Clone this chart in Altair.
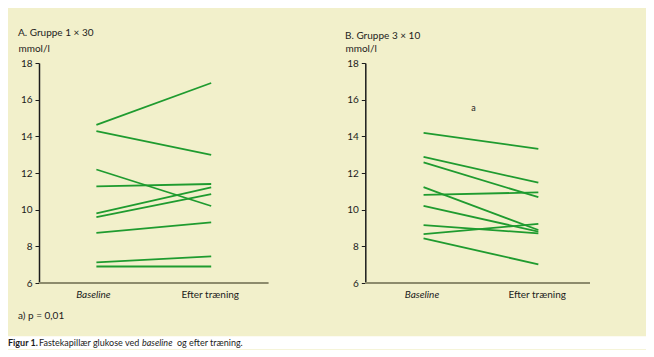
import altair as alt
import pandas as pd

# ---------------- data ----------------
panel_titles = ["A. Gruppe 1 × 30", "B. Gruppe 3 × 10"]
unit_label = "mmol/l"
x_labels = ["Baseline", "Efter træning"]
y_ticks = [6, 8, 10, 12, 14, 16, 18]

a_baseline = [14.62, 14.29, 12.19, 11.27, 9.80, 9.59, 8.73, 7.12, 6.90]
a_after = [16.91, 12.99, 10.20, 11.40, 11.21, 10.85, 9.31, 7.45, 6.90]

b_baseline = [14.19, 12.88, 12.58, 11.23, 10.81, 10.21, 9.16, 8.67, 8.43]
b_after = [13.32, 11.47, 10.68, 8.89, 10.94, 8.80, 8.71, 9.22, 7.02]

annotation_text = "a"
annotation_value = 15.55
footnote = "a) p = 0,01"
caption_parts = ["Figur 1.", "Fastekapillær glukose ved", "baseline", "og efter træning."]

# ---------------- layout / style ----------------
BG = "#f2f0cb"
GREEN = "#1f9b2f"
INK = "#1c1c1c"
AXIS_GREY = "#8d8b6c"
FONT = "Lato"
W, H = 551, 220
X_DOMAIN = [0, 2.4]
Y_DOMAIN = [6, 18]
OFFSETS = {"A": 0.0, "B": 1.42}
PANEL_END = {"A": 1.0, "B": 2.4}
POINT_POS = {"A": [0.25, 0.75], "B": [0.255, 0.755]}
LABEL_POS = {"A": [0.237, 0.746], "B": [0.248, 0.75]}
ANNOT_X = 1.892
B_AXIS_PX = 326.3

xs = alt.Scale(domain=X_DOMAIN, nice=False, zero=False)
ys = alt.Scale(domain=Y_DOMAIN, nice=False, zero=False)

rows = []
for panel, base, after in (("A", a_baseline, a_after), ("B", b_baseline, b_after)):
    for i, (b, a) in enumerate(zip(base, after)):
        rows.append(dict(subj=f"{panel}{i}", panel=panel, x=OFFSETS[panel] + POINT_POS[panel][0], value=b))
        rows.append(dict(subj=f"{panel}{i}", panel=panel, x=OFFSETS[panel] + POINT_POS[panel][1], value=a))
lines_df = pd.DataFrame(rows)

axes_df = pd.DataFrame({
    "start": [OFFSETS["A"], OFFSETS["B"]],
    "end": [PANEL_END["A"], PANEL_END["B"]],
    "base": [Y_DOMAIN[0], Y_DOMAIN[0]],
})

lab_rows = []
for panel in ("A", "B"):
    for j, lab in enumerate(x_labels):
        lab_rows.append(dict(label=lab, x=OFFSETS[panel] + LABEL_POS[panel][j], base=Y_DOMAIN[0], idx=j))
labels_df = pd.DataFrame(lab_rows)

one = pd.DataFrame({"k": [0]})


def y_axis(tx, ty, offset=0):
    return alt.Axis(
        values=y_ticks, orient="left", offset=offset, grid=False,
        domainColor=INK, domainWidth=1.5, tickColor=INK, tickSize=4, tickWidth=1,
        labelFont=FONT, labelFontSize=10, labelColor=INK, labelPadding=3,
        title=unit_label, titleFont=FONT, titleFontSize=10, titleFontWeight="normal",
        titleColor=INK, titleAngle=0, titleAlign="left", titleBaseline="middle",
        titleX=tx, titleY=ty,
    )


top_pad = alt.Chart(one).mark_rect(color=BG).encode(
    x=alt.value(-31), x2=alt.value(607), y=alt.value(-54.7), y2=alt.value(-50)
)
footer_bg = alt.Chart(one).mark_rect(color="white").encode(
    x=alt.value(-31), x2=alt.value(607), y=alt.value(273.3), y2=alt.value(286.3)
)

x_enc = alt.X("x:Q", scale=xs, axis=None)

lines_a = alt.Chart(lines_df[lines_df.panel == "A"]).mark_line(color=GREEN, strokeWidth=1.8).encode(
    x=x_enc,
    y=alt.Y("value:Q", scale=ys, axis=y_axis(-21, -14.7)),
    detail="subj:N",
)
lines_b = alt.Chart(lines_df[lines_df.panel == "B"]).mark_line(color=GREEN, strokeWidth=1.8).encode(
    x=x_enc,
    y=alt.Y("value:Q", scale=ys, axis=y_axis(-20.3, -14.7, offset=-B_AXIS_PX)),
    detail="subj:N",
)

x_axes = alt.Chart(axes_df).mark_rule(color=AXIS_GREY, strokeWidth=2).encode(
    x=alt.X("start:Q", scale=xs, axis=None), x2="end:Q",
    y=alt.Y("base:Q", scale=ys, axis=None),
)

lab_it = alt.Chart(labels_df[labels_df.idx == 0]).mark_text(
    font=FONT, fontSize=10, fontStyle="italic", color=INK, baseline="middle", dy=12
).encode(x=x_enc, y=alt.Y("base:Q", scale=ys, axis=None), text="label:N")
lab_n = alt.Chart(labels_df[labels_df.idx == 1]).mark_text(
    font=FONT, fontSize=10, color=INK, baseline="middle", dy=12
).encode(x=x_enc, y=alt.Y("base:Q", scale=ys, axis=None), text="label:N")

title_a = alt.Chart(pd.DataFrame({"t": [panel_titles[0]]})).mark_text(
    font=FONT, fontSize=10, color=INK, align="left", baseline="middle"
).encode(x=alt.value(-21), y=alt.value(-30), text="t:N")
title_b = alt.Chart(pd.DataFrame({"t": [panel_titles[1]]})).mark_text(
    font=FONT, fontSize=10, color=INK, align="left", baseline="middle"
).encode(x=alt.value(B_AXIS_PX - 20.3), y=alt.value(-27), text="t:N")

annot = alt.Chart(pd.DataFrame({"x": [ANNOT_X], "v": [annotation_value], "t": [annotation_text]})).mark_text(
    font=FONT, fontSize=9, color=INK, baseline="middle"
).encode(x=x_enc, y=alt.Y("v:Q", scale=ys, axis=None), text="t:N")

foot = alt.Chart(pd.DataFrame({"t": [footnote]})).mark_text(
    font=FONT, fontSize=10, color=INK, align="left", baseline="middle"
).encode(x=alt.value(-21), y=alt.value(253), text="t:N")

cap_x = [-31, 0, 103, 138]
cap_styles = [("bold", "normal"), ("normal", "normal"), ("normal", "italic"), ("normal", "normal")]
caps = []
for part, cx, (fw, fs) in zip(caption_parts, cap_x, cap_styles):
    caps.append(
        alt.Chart(pd.DataFrame({"t": [part]})).mark_text(
            font=FONT, fontSize=9, color=INK, align="left", baseline="middle", fontWeight=fw, fontStyle=fs
        ).encode(x=alt.value(cx), y=alt.value(280), text="t:N")
    )

chart = alt.layer(
    top_pad, footer_bg, x_axes, lines_a, lines_b, lab_it, lab_n, title_a, title_b, annot, foot, *caps
).resolve_scale(y="independent").properties(
    width=W, height=H, padding=0, background=BG
).configure_view(stroke=None)

chart.save("out.html", embed_options={"renderer": "svg", "actions": False})
